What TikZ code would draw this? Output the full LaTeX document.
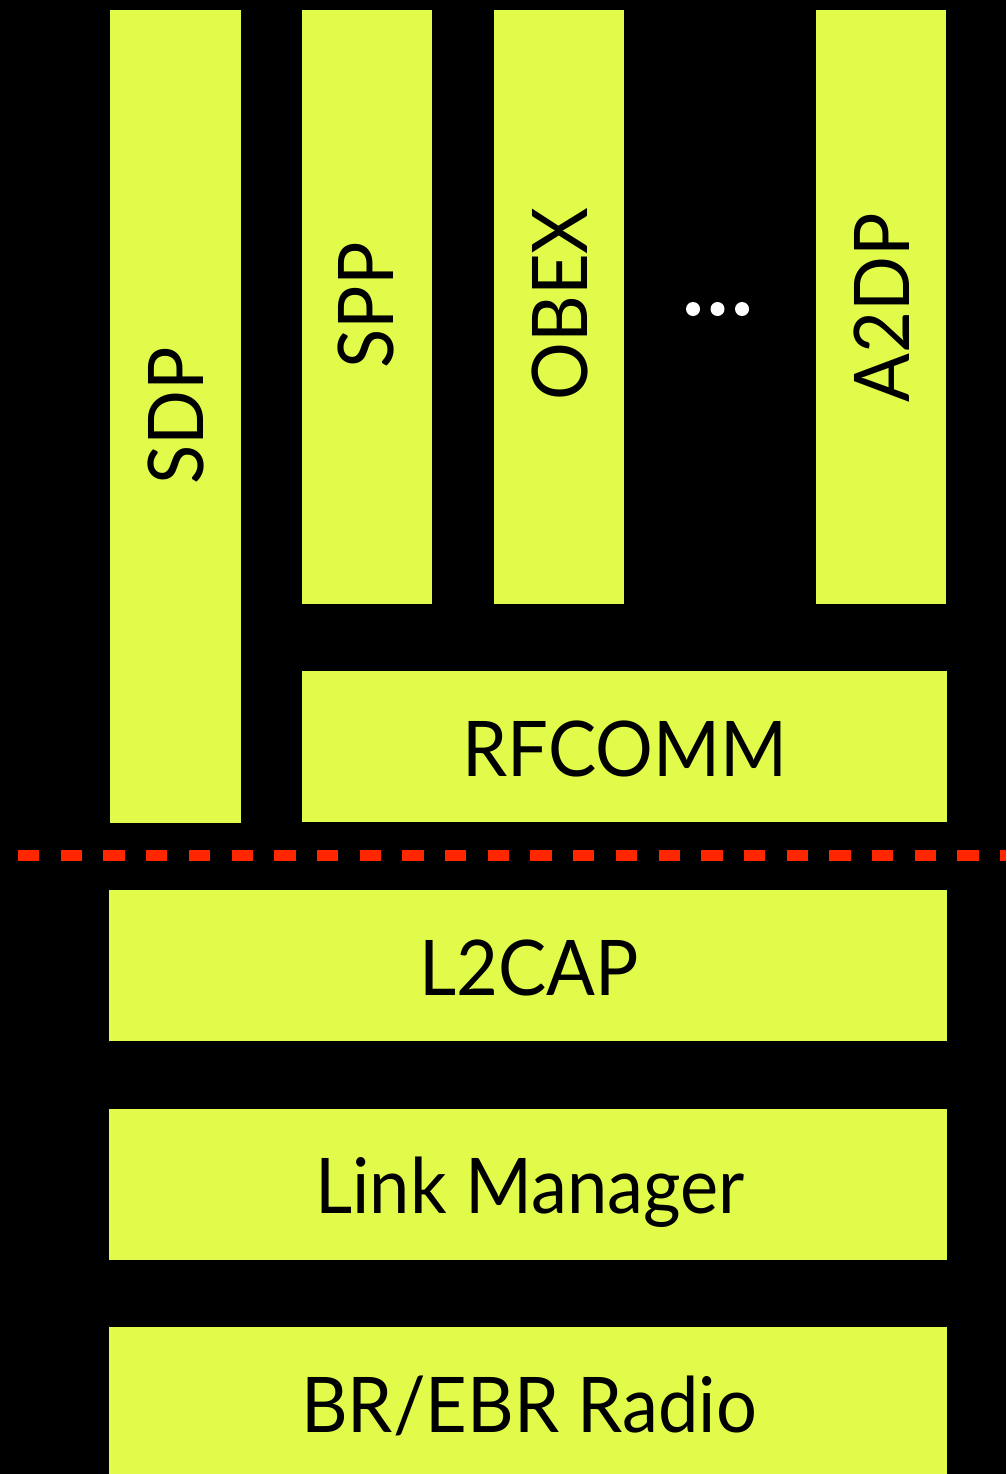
\documentclass[tikz,border=0pt]{standalone}
\usepackage{fontspec}
\setmainfont{Lato}
\definecolor{layerfill}{RGB}{226,251,75}
\definecolor{divider}{RGB}{255,38,0}
\begin{document}
\begin{tikzpicture}[x=1pt,y=-1pt,
  layer/.style={fill=layerfill, draw=none, inner sep=0pt, anchor=north west},
  capbase/.style={inner sep=0pt, text height=55pt, text depth=0pt,
    font=\fontsize{76.8}{80}\selectfont},
  caption/.style={capbase, xscale=0.94},
  vcaption/.style={capbase, rotate=90, xscale=0.94},
  ellipsisdot/.style={circle, fill=white, draw=none, inner sep=0pt, minimum size=14pt},
  boundary/.style={draw=divider, line width=11pt, dash pattern=on 21.3pt off 21.4pt}]
% black canvas
\fill[black] (0,0) rectangle (1006,1474);
\useasboundingbox (0,0) rectangle (1006,1474);

% upper protocol columns
\node[layer, minimum width=131pt, minimum height=813pt] (sdp) at (109.5,10) {};
\node[layer, minimum width=130.5pt, minimum height=594pt] (spp) at (301.5,10) {};
\node[layer, minimum width=130pt, minimum height=594pt] (obex) at (494,10) {};
\node[layer, minimum width=130pt, minimum height=594pt] (a2dp) at (816,10) {};
\node[layer, minimum width=645.5pt, minimum height=151pt] (rfcomm) at (301.5,671) {};

\node[vcaption] (sdpText) at (175.5,415.5) {SDP};
\node[vcaption] (sppText) at (365.5,305.5) {SPP};
\node[vcaption] (obexText) at (559.5,304) {OBEX};
\node[vcaption] (a2dpText) at (881.5,308) {A2DP};
\node[caption] (rfcommText) at (625,748.5) {RFCOMM};

% more profiles
\node[ellipsisdot] (dotA) at (693,309) {};
\node[ellipsisdot] (dotB) at (717.5,309) {};
\node[ellipsisdot] (dotC) at (742,309) {};

% host / controller boundary
\coordinate (divL) at (18,855.5);
\coordinate (divR) at (1006,855.5);
\draw[boundary] (divL) -- (divR);

% lower stack
\node[layer, minimum width=838pt, minimum height=151pt] (l2cap) at (108.5,890) {};
\node[layer, minimum width=838pt, minimum height=151pt] (lm) at (108.5,1109) {};
\node[layer, minimum width=838pt, minimum height=147pt] (radio) at (108.5,1327) {};

\node[caption] (l2capText) at (529,967.5) {L2CAP};
\node[caption] (lmText) at (530,1185.5) {Link Manager};
\node[caption] (radioText) at (529,1404.5) {BR/EBR Radio};
\end{tikzpicture}
\end{document}
